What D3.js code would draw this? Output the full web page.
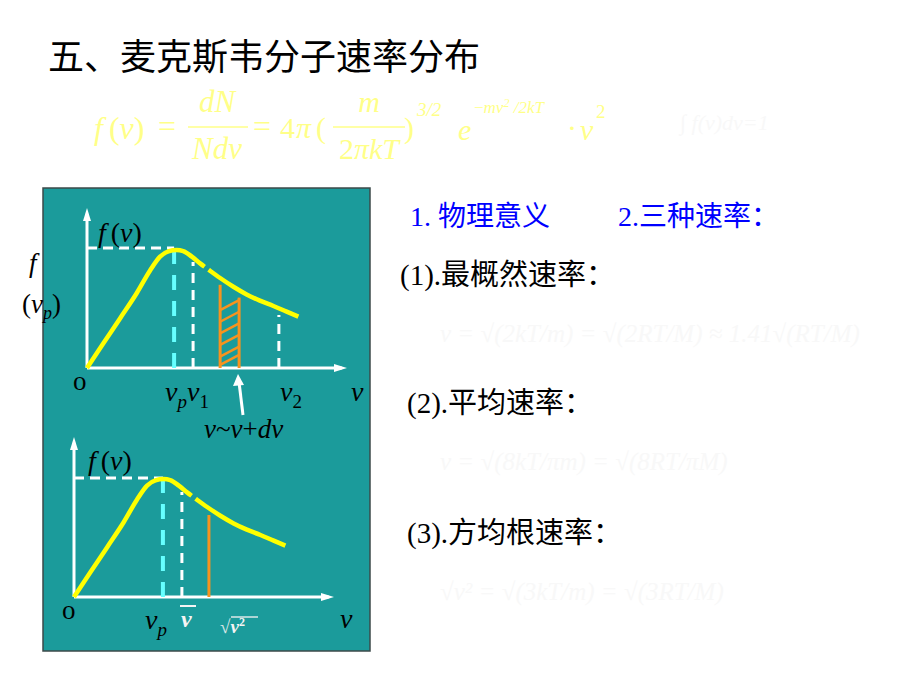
<!DOCTYPE html>
<html><head><meta charset="utf-8">
<script src="https://cdn.jsdelivr.net/npm/d3@7"></script>
<style>body{margin:0;background:#fff}text{font-family:"Liberation Serif","Noto Sans CJK SC",serif}</style>
</head><body>
<svg id="c" width="920" height="690"></svg>
<script>
// ---------- data ----------
const titleText = "五、麦克斯韦分子速率分布";
const curveV = [0, 6.3, 12.7, 19.1, 24.2, 28.1, 31.3, 34.5, 37.0, 40.3, 43.5, 47.3, 51.2, 56.3, 61.4, 66.5, 71.7, 76.8, 81.3];
const curveF = [0, 15.4, 31.0, 46.7, 60.8, 69.6, 72.9, 73.75, 73.1, 69.6, 65.4, 60.8, 56.25, 50.8, 46.0, 42.1, 38.75, 35.2, 32.1];
const curveGapV = 45.8;
const peakLevel = 75;
const topMarkerV = [33.5, 40.8, 73.8];
const topMarkerF = [73.75, 66.25, 33.1];
const topMarkerStyle = ["cyan", "white", "white"];
const dvBandV = [51.2, 58.5];
const dvBandTop = [52, 44];
const hatchStartF = [36.2, 28.9, 21.7, 14.4, 7.1, 1.9];
const hatchRise = 6.25;
const botMarkerV = [34.2, 41.5, 51.9];
const botMarkerF = [73.5, 65.6, 51.25];
const botMarkerStyle = ["cyan", "white", "orange"];
const rightLabels = ["(1).最概然速率：", "(2).平均速率：", "(3).方均根速率："];
const blueLabels = ["1. 物理意义", "2.三种速率："];
const faintFormulas = ["v = √(2kT/m) = √(2RT/M) ≈ 1.41√(RT/M)", "v = √(8kT/πm) = √(8RT/πM)", "√v² = √(3kT/m) = √(3RT/M)"];

// ---------- page ----------
const svg = d3.select("#c");
const TEAL = "#1b9b9b", YEL = "#ffff00", CYAN = "#66ffff", ORANGE = "#f7931e";

svg.append("text").attr("x", 48).attr("y", 70).attr("font-size", 36).attr("fill", "#000")
  .style("font-family", "'Noto Sans CJK SC'").text(titleText);

// Formula (pale yellow)
const FY = "#ffff88";
const fg = svg.append("g").attr("fill", FY);
function t(x, y, size, txt, italic, anchor) {
  return fg.append("text").attr("x", x).attr("y", y).attr("font-size", size)
    .attr("font-style", italic ? "italic" : "normal").attr("text-anchor", anchor || "start").text(txt);
}
let f1 = fg.append("text").attr("x", 94).attr("y", 139).attr("font-size", 32);
f1.append("tspan").attr("font-style", "italic").text("f");
f1.append("tspan").attr("dx", 6).text("(");
f1.append("tspan").attr("font-style", "italic").text("v");
f1.append("tspan").text(")");
t(158, 137, 32, "=");
fg.append("line").attr("x1", 188).attr("x2", 248).attr("y1", 127).attr("y2", 127).attr("stroke", FY).attr("stroke-width", 1.5);
t(217, 112, 31, "dN", true, "middle");
t(217, 159, 31, "Ndv", true, "middle");
t(253, 137, 32, "=");
t(280, 138, 30, "4");
t(296, 138, 30, "π", true);
t(316, 138, 30, "(");
fg.append("line").attr("x1", 333).attr("x2", 405).attr("y1", 127).attr("y2", 127).attr("stroke", FY).attr("stroke-width", 1.5);
t(369, 112, 30, "m", true, "middle");
let den = fg.append("text").attr("x", 369).attr("y", 159).attr("font-size", 30).attr("text-anchor", "middle");
den.append("tspan").text("2");
den.append("tspan").attr("font-style", "italic").text("πkT");
t(404, 138, 30, ")");
t(417, 116, 19, "3/2", true);
t(458, 140, 30, "e", true);
let ex = fg.append("text").attr("x", 474).attr("y", 113).attr("font-size", 17).attr("font-style", "italic");
ex.append("tspan").attr("font-style", "normal").text("−");
ex.append("tspan").text("mv");
ex.append("tspan").attr("dy", -6).attr("font-size", 12).text("2");
ex.append("tspan").attr("dy", 6).text(" /2kT");
t(567, 138, 30, "·");
t(580, 140, 30, "v", true);
t(596, 118, 19, "2");
// faint normalization
svg.append("text").attr("x", 680).attr("y", 130).attr("font-size", 22).attr("fill", "#f8f8f8")
  .attr("font-style", "italic").text("∫ f(v)dv=1");

// Right texts
svg.append("text").attr("x", 410).attr("y", 226).attr("font-size", 28).attr("fill", "#0000ff").text(blueLabels[0]);
svg.append("text").attr("x", 618).attr("y", 226).attr("font-size", 28).attr("fill", "#0000ff").text(blueLabels[1]);
const rlY = [285, 413, 543], rlX = [400, 407, 407];
rightLabels.forEach((s, i) => svg.append("text").attr("x", rlX[i]).attr("y", rlY[i]).attr("font-size", 29).attr("fill", "#000").text(s));
// faint hidden formulas
const faintY = [342, 470, 600];
faintFormulas.forEach((s, i) => svg.append("text").attr("x", 440).attr("y", faintY[i]).attr("font-size", 25).attr("fill", "#f8f8f8").attr("font-style", "italic").text(s));

// Panel
svg.append("rect").attr("x", 43).attr("y", 188).attr("width", 327).attr("height", 463)
  .attr("fill", TEAL).attr("stroke", "#3c4a4a").attr("stroke-width", 1.5);

// Outside label f (v_p)
svg.append("text").attr("x", 29).attr("y", 272).attr("font-size", 27).attr("font-style", "italic").attr("fill", "#000").text("f");
let lv = svg.append("text").attr("x", 22).attr("y", 313).attr("font-size", 27).attr("fill", "#000");
lv.append("tspan").text("(");
lv.append("tspan").attr("font-style", "italic").text("v");
lv.append("tspan").attr("font-style", "italic").attr("font-size", 18).attr("dy", 6).text("p");
lv.append("tspan").attr("dy", -6).text(")");

// Scales
const x = d3.scaleLinear().domain([0, 100]).range([0, 260]);
const y = d3.scaleLinear().domain([0, 100]).range([0, -160]);
const pts = curveV.map((v, i) => [v, curveF[i]]);
const line = d3.line().x(d => x(d[0])).y(d => y(d[1])).curve(d3.curveMonotoneX);

function drawChart(ox, oy) {
  const g = svg.append("g").attr("transform", `translate(${ox},${oy})`);
  g.append("line").attr("x1", x(0)).attr("x2", x(98)).attr("y1", 0).attr("y2", 0).attr("stroke", "#fff").attr("stroke-width", 3);
  g.append("line").attr("x1", 0).attr("x2", 0).attr("y1", y(0)).attr("y2", y(95)).attr("stroke", "#fff").attr("stroke-width", 3);
  g.append("path").attr("d", `M${x(100)},0 L${x(100) - 13},-4 L${x(100) - 13},4 Z`).attr("fill", "#fff");
  g.append("path").attr("d", `M0,${y(100)} L-4,${y(100) + 13} L4,${y(100) + 13} Z`).attr("fill", "#fff");
  return g;
}
function drawCurve(g) {
  const p = g.append("path").attr("d", line(pts)).attr("fill", "none").attr("stroke", YEL).attr("stroke-width", 4.5);
  const node = p.node(), total = node.getTotalLength();
  let lo = 0, hi = total;
  for (let k = 0; k < 30; k++) { const m = (lo + hi) / 2; if (node.getPointAtLength(m).x < x(curveGapV)) lo = m; else hi = m; }
  p.attr("stroke-dasharray", `${lo - 2} 5 ${total}`);
}
function vDash(g, v, f, style) {
  const sel = g.append("line").attr("x1", x(v)).attr("x2", x(v)).attr("y1", y(0)).attr("y2", y(f));
  if (style === "cyan") sel.attr("stroke", CYAN).attr("stroke-width", 4).attr("stroke-dasharray", "15 11");
  else if (style === "white") sel.attr("stroke", "#fff").attr("stroke-width", 3).attr("stroke-dasharray", "10 7");
  else sel.attr("stroke", ORANGE).attr("stroke-width", 3);
}
function fvLabel(g, px, py) {
  const tx = g.append("text").attr("x", px).attr("y", py).attr("font-size", 28).attr("fill", "#000");
  tx.append("tspan").attr("font-style", "italic").text("f");
  tx.append("tspan").attr("dx", 5).text("(");
  tx.append("tspan").attr("font-style", "italic").text("v");
  tx.append("tspan").text(")");
}
function subLabel(g, px, py, main, sub, subItalic) {
  const tx = g.append("text").attr("x", px).attr("y", py).attr("font-size", 28).attr("fill", "#000").attr("font-style", "italic");
  tx.append("tspan").text(main);
  tx.append("tspan").attr("font-size", 19).attr("dy", 7).attr("font-style", subItalic ? "italic" : "normal").text(sub);
  return tx;
}

// ---- Top chart ----
const gt = drawChart(87, 368);
gt.append("line").attr("x1", 0).attr("x2", x(topMarkerV[0])).attr("y1", y(peakLevel)).attr("y2", y(peakLevel))
  .attr("stroke", "#fff").attr("stroke-width", 3).attr("stroke-dasharray", "10 6");
topMarkerV.forEach((v, i) => vDash(gt, v, topMarkerF[i], topMarkerStyle[i]));
dvBandV.forEach((v, i) => gt.append("line").attr("x1", x(v)).attr("x2", x(v)).attr("y1", 0).attr("y2", y(dvBandTop[i])).attr("stroke", ORANGE).attr("stroke-width", 3));
hatchStartF.forEach(h => gt.append("line").attr("x1", x(dvBandV[0])).attr("x2", x(dvBandV[1]))
  .attr("y1", y(h)).attr("y2", y(Math.min(h + hatchRise, dvBandTop[1]))).attr("stroke", ORANGE).attr("stroke-width", 2.5));
drawCurve(gt);
fvLabel(gt, 11, -126);
gt.append("text").attr("x", -14).attr("y", 22).attr("font-size", 27).attr("fill", "#000").text("o");
const vpv1 = gt.append("text").attr("x", 78).attr("y", 33).attr("font-size", 28).attr("fill", "#000").attr("font-style", "italic");
vpv1.append("tspan").text("v");
vpv1.append("tspan").attr("font-size", 19).attr("dy", 7).text("p");
vpv1.append("tspan").attr("dy", -7).text("v");
vpv1.append("tspan").attr("font-size", 19).attr("dy", 7).attr("font-style", "normal").text("1");
subLabel(gt, 193, 33, "v", "2", false);
gt.append("text").attr("x", 264).attr("y", 33).attr("font-size", 28).attr("fill", "#000").attr("font-style", "italic").text("v");
// arrow
gt.append("line").attr("x1", 156).attr("x2", 152).attr("y1", 47).attr("y2", 14).attr("stroke", "#fff").attr("stroke-width", 3);
gt.append("path").attr("d", "M151,6 L146,18 L157,17 Z").attr("fill", "#fff");
const dvT = gt.append("text").attr("x", 117).attr("y", 70).attr("font-size", 27).attr("fill", "#000");
dvT.append("tspan").attr("font-style", "italic").text("v");
dvT.append("tspan").text("~");
dvT.append("tspan").attr("font-style", "italic").text("v");
dvT.append("tspan").text("+");
dvT.append("tspan").attr("font-style", "italic").text("dv");

// ---- Bottom chart ----
const gb = drawChart(74, 597);
gb.append("line").attr("x1", 0).attr("x2", x(botMarkerV[0])).attr("y1", y(peakLevel) + 1).attr("y2", y(peakLevel) + 1)
  .attr("stroke", "#fff").attr("stroke-width", 3).attr("stroke-dasharray", "10 6");
botMarkerV.forEach((v, i) => vDash(gb, v, botMarkerF[i], botMarkerStyle[i]));
drawCurve(gb);
fvLabel(gb, 14, -127);
gb.append("text").attr("x", -12).attr("y", 22).attr("font-size", 27).attr("fill", "#000").text("o");
subLabel(gb, 71, 32, "v", "p", true);
gb.append("text").attr("x", 107).attr("y", 30).attr("font-size", 24).attr("font-weight", "bold").attr("fill", "#f4f4f4").attr("font-style", "italic").text("v");
gb.append("line").attr("x1", 106).attr("x2", 122).attr("y1", 9).attr("y2", 9).attr("stroke", "#f4f4f4").attr("stroke-width", 2);
const rt = gb.append("text").attr("x", 146).attr("y", 36).attr("font-size", 19).attr("fill", "#dde8e8");
rt.append("tspan").text("√");
rt.append("tspan").attr("font-weight", "bold").attr("font-style", "italic").attr("fill", "#f4f4f4").text("v");
rt.append("tspan").attr("font-weight", "bold").attr("font-size", 12).attr("dy", -7).attr("fill", "#f4f4f4").text("2");
gb.append("line").attr("x1", 157).attr("x2", 184).attr("y1", 20).attr("y2", 20).attr("stroke", "#dde8e8").attr("stroke-width", 1.5);
gb.append("text").attr("x", 266).attr("y", 31).attr("font-size", 28).attr("fill", "#000").attr("font-style", "italic").text("v");
</script>
</body></html>
